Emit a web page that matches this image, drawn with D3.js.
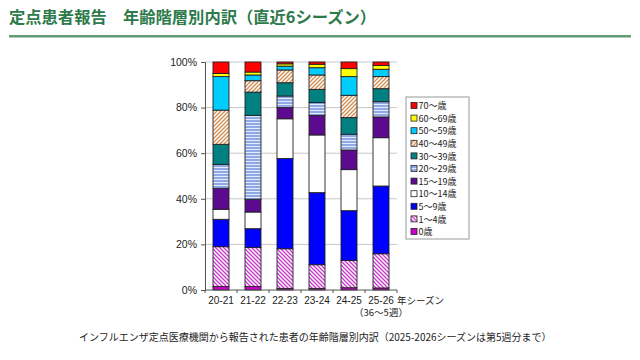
<!DOCTYPE html>
<html><head><meta charset="utf-8">
<script src="https://cdn.jsdelivr.net/npm/d3@7"></script>
<style>
body{margin:0;background:#fff;}
svg{display:block;}
</style></head>
<body><svg id="c" width="640" height="360"></svg>
<script>
const seasons = ["20-21","21-22","22-23","23-24","24-25","25-26"];
const ageGroups = ["0歳","1〜4歳","5〜9歳","10〜14歳","15〜19歳","20〜29歳","30〜39歳","40〜49歳","50〜59歳","60〜69歳","70〜歳"];
// percentage share of each age group per season (bottom to top)
const age0    = [1.5, 1.5, 0.7, 0.7, 1.0, 0.9];
const age1_4  = [17.5,17.2,17.4,10.4,12.0,15.0];
const age5_9  = [12.0, 8.2,39.6,31.6,21.8,29.7];
const age10_14= [4.4, 7.3,17.4,25.3,18.0,21.2];
const age15_19= [9.2, 5.6, 4.9, 8.6, 8.6, 9.1];
const age20_29= [10.5,36.8, 5.1, 5.6, 6.9, 6.7];
const age30_39= [8.8,10.2, 5.8, 5.8, 7.3, 5.7];
const age40_49= [15.0, 5.0, 5.6, 6.3, 9.8, 5.3];
const age50_59= [14.7, 2.5, 1.7, 3.2, 8.2, 3.2];
const age60_69= [1.4, 1.3, 1.0, 1.5, 3.5, 1.7];
const age70   = [5.0, 4.4, 0.8, 1.0, 2.9, 1.5];
const yTicks = [0,20,40,60,80,100];
const titleText = "定点患者報告　年齢階層別内訳（直近6シーズン）";
const captionText = "インフルエンザ定点医療機関から報告された患者の年齢階層別内訳（2025-2026シーズンは第5週分まで）";

const seriesValues = [age0,age1_4,age5_9,age10_14,age15_19,age20_29,age30_39,age40_49,age50_59,age60_69,age70];
const fills = ["#cc00cc","url(#hMag)","#0000ff","#ffffff","#5c0a8f","url(#hBlue)","#008080","url(#hOra)","#00ccff","#ffff00","#ff0000"];

const rows = seasons.map((s,i)=>{const r={season:s}; ageGroups.forEach((g,k)=>r[g]=seriesValues[k][i]); return r;});
const stacked = d3.stack().keys(ageGroups)(rows);

const svg = d3.select("#c");
const defs = svg.append("defs");
let p = defs.append("pattern").attr("id","hMag").attr("patternUnits","userSpaceOnUse").attr("width",4).attr("height",4);
p.append("rect").attr("width",4).attr("height",4).attr("fill","#fff");
p.append("path").attr("d","M-1,-1L5,5M-1,3L1,5M3,-1L5,1").attr("stroke","#cc33cc").attr("stroke-width",1.3);
p = defs.append("pattern").attr("id","hOra").attr("patternUnits","userSpaceOnUse").attr("width",4).attr("height",4);
p.append("rect").attr("width",4).attr("height",4).attr("fill","#fff");
p.append("path").attr("d","M-1,5L5,-1M-1,1L1,-1M3,5L5,3").attr("stroke","#d58a4e").attr("stroke-width",1.3);
p = defs.append("pattern").attr("id","hBlue").attr("patternUnits","userSpaceOnUse").attr("width",4).attr("height",3);
p.append("rect").attr("width",4).attr("height",3).attr("fill","#8fa8e6");
p.append("rect").attr("y",2).attr("width",4).attr("height",1).attr("fill","#e4eafa");

// title
svg.append("text").attr("x",9).attr("y",23).attr("font-family","'Noto Sans CJK JP'").attr("font-weight","bold")
  .attr("font-size",16.3).attr("fill","#2d7a4b").text(titleText);
svg.append("rect").attr("x",9).attr("y",35).attr("width",622).attr("height",2.5).attr("fill","#5f9c78");

const x = d3.scaleBand().domain(seasons).range([205,397]).paddingInner(0.5).paddingOuter(0.25);
const y = d3.scaleLinear().domain([0,100]).range([290,62]);

svg.append("g").selectAll("line").data(yTicks.filter(t=>t>0)).join("line")
  .attr("x1",205).attr("x2",397).attr("y1",d=>y(d)).attr("y2",d=>y(d))
  .attr("stroke","#c8c8c8").attr("stroke-width",1);

svg.append("g").selectAll("g").data(stacked).join("g")
  .attr("fill",(d,i)=>fills[i])
  .selectAll("rect").data(d=>d).join("rect")
  .attr("x",d=>x(d.data.season)).attr("width",x.bandwidth())
  .attr("y",d=>y(d[1])).attr("height",d=>Math.max(0,y(d[0])-y(d[1])))
  .attr("stroke","#222").attr("stroke-width",0.9);

const yAxis = d3.axisLeft(y).tickValues(yTicks).tickFormat(d=>d+"%").tickSize(4).tickPadding(4);
const gy = svg.append("g").attr("transform","translate(205,0)").call(yAxis);
gy.select(".domain").attr("stroke","#555");
gy.selectAll(".tick line").attr("stroke","#555");
gy.selectAll("text").attr("font-family","'Liberation Sans',Arial,sans-serif").attr("font-size",10.5).attr("fill","#222");

const gx = svg.append("g").attr("transform","translate(0,290)");
gx.append("line").attr("x1",205).attr("x2",397).attr("stroke","#555");
const step = x.step();
gx.selectAll("line.tk").data(d3.range(seasons.length+1)).join("line").attr("class","tk")
  .attr("x1",i=>205+i*step).attr("x2",i=>205+i*step).attr("y1",0).attr("y2",3).attr("stroke","#555");
gx.selectAll("text.lab").data(seasons).join("text").attr("class","lab")
  .attr("x",d=>x(d)+x.bandwidth()/2).attr("y",14).attr("text-anchor","middle")
  .attr("font-family","'Liberation Sans',Arial,sans-serif").attr("font-size",10).attr("fill","#222").text(d=>d);
gx.append("text").attr("x",397).attr("y",14).attr("font-family","'Noto Sans CJK JP'").attr("font-size",9.5).attr("fill","#222").text("年シーズン");
gx.append("text").attr("x",x("25-26")+x.bandwidth()/2).attr("y",26).attr("text-anchor","middle")
  .attr("font-family","'Noto Sans CJK JP'").attr("font-size",9.5).attr("fill","#222").text("（36〜5週）");

const lg = svg.append("g");
lg.append("rect").attr("x",406).attr("y",97).attr("width",63).attr("height",142).attr("fill","#fff").attr("stroke","#9a9a9a");
const legendItems = ageGroups.map((g,i)=>({g,f:fills[i]})).reverse();
const li = lg.selectAll("g").data(legendItems).join("g").attr("transform",(d,i)=>`translate(411,${106+i*12.6})`);
li.append("rect").attr("x",0).attr("y",-3.5).attr("width",6).attr("height",6).attr("fill",d=>d.f).attr("stroke","#222").attr("stroke-width",0.8);
li.append("text").attr("x",7.5).attr("y",3.2).attr("font-family","'Noto Sans CJK JP'").attr("font-size",9).attr("fill","#222").text(d=>d.g);

svg.append("text").attr("x",79).attr("y",341).attr("font-family","'Noto Sans CJK JP'").attr("font-size",10).attr("fill","#222").text(captionText);
</script></body></html>
